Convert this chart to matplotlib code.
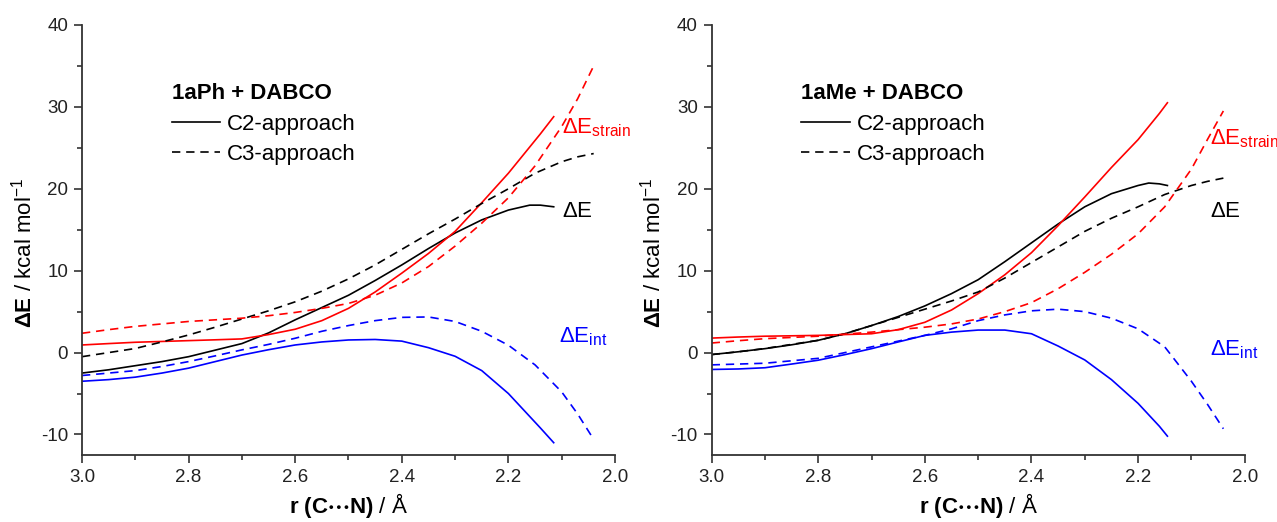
import numpy as np
import matplotlib
matplotlib.use("Agg")
import matplotlib.pyplot as plt
from matplotlib.lines import Line2D
from matplotlib.ticker import MultipleLocator

plt.rcParams['font.family'] = ['Liberation Sans', 'DejaVu Sans']
plt.rcParams['mathtext.fontset'] = 'custom'
plt.rcParams['mathtext.rm'] = 'Liberation Sans'
plt.rcParams['mathtext.bf'] = 'Liberation Sans:bold'
plt.rcParams['mathtext.it'] = 'Liberation Sans:italic'

# ---- 1aPh + DABCO (left) ----
ph_r_c2 = [3.00, 2.95, 2.90, 2.85, 2.80, 2.75, 2.70, 2.65, 2.60, 2.55, 2.50, 2.45,
           2.40, 2.35, 2.30, 2.25, 2.20, 2.16, 2.14, 2.115]
ph_dE_c2 = [-2.5, -2.1, -1.6, -1.1, -0.5, 0.3, 1.1, 2.4, 4.0, 5.5, 7.0, 8.8,
            10.7, 12.7, 14.6, 16.2, 17.4, 18.0, 18.0, 17.8]
ph_strain_c2 = [0.93, 1.1, 1.26, 1.36, 1.46, 1.56, 1.67, 2.2, 2.85, 3.9, 5.4, 7.4,
                9.7, 12.1, 14.8, 18.3, 21.9, 25.1, 26.7, 28.8]
ph_int_c2 = [-3.5, -3.3, -3.0, -2.5, -1.9, -1.1, -0.3, 0.35, 0.93, 1.3, 1.54, 1.6,
             1.4, 0.6, -0.45, -2.2, -5.0, -7.8, -9.2, -11.0]

ph_r_c3 = [3.00, 2.95, 2.90, 2.85, 2.80, 2.75, 2.70, 2.65, 2.60, 2.55, 2.50, 2.45,
           2.40, 2.35, 2.30, 2.25, 2.20, 2.15, 2.10, 2.07, 2.04]
ph_dE_c3 = [-0.5, 0.0, 0.5, 1.3, 2.15, 3.1, 4.1, 5.1, 6.2, 7.5, 9.0, 10.7,
            12.6, 14.5, 16.3, 18.2, 20.0, 21.9, 23.3, 23.9, 24.3]
ph_strain_c3 = [2.36, 2.8, 3.2, 3.5, 3.8, 4.0, 4.2, 4.5, 4.9, 5.4, 6.0, 7.0,
                8.5, 10.5, 13.0, 15.8, 18.9, 22.8, 27.6, 31.0, 35.0]
ph_int_c3 = [-2.8, -2.5, -2.2, -1.7, -1.1, -0.4, 0.33, 1.0, 1.75, 2.6, 3.3, 3.9,
             4.3, 4.35, 3.8, 2.6, 0.9, -1.5, -4.8, -7.5, -10.6]

# ---- 1aMe + DABCO (right) ----
me_r_c2 = [3.00, 2.95, 2.90, 2.85, 2.80, 2.75, 2.70, 2.65, 2.60, 2.55, 2.50, 2.45,
           2.40, 2.35, 2.30, 2.25, 2.20, 2.18, 2.16, 2.145]
me_dE_c2 = [-0.24, 0.1, 0.48, 0.95, 1.5, 2.3, 3.3, 4.4, 5.7, 7.2, 8.9, 11.1,
            13.4, 15.7, 17.8, 19.4, 20.4, 20.7, 20.6, 20.4]
me_strain_c2 = [1.77, 1.9, 2.0, 2.05, 2.1, 2.2, 2.3, 2.8, 3.7, 5.2, 7.2, 9.5,
                12.2, 15.5, 19.0, 22.6, 26.0, 27.6, 29.2, 30.5]
me_int_c2 = [-2.06, -2.0, -1.85, -1.4, -0.93, -0.25, 0.48, 1.3, 2.1, 2.5, 2.75, 2.75,
             2.3, 0.8, -0.9, -3.3, -6.2, -7.6, -9.0, -10.2]

me_r_c3 = [3.00, 2.95, 2.90, 2.85, 2.80, 2.75, 2.70, 2.65, 2.60, 2.55, 2.50, 2.45,
           2.40, 2.35, 2.30, 2.25, 2.20, 2.15, 2.10, 2.07, 2.04]
me_dE_c3 = [-0.24, 0.1, 0.5, 1.0, 1.5, 2.3, 3.3, 4.3, 5.3, 6.3, 7.4, 9.1,
            11.0, 12.9, 14.8, 16.4, 17.8, 19.3, 20.4, 20.9, 21.3]
me_strain_c3 = [1.17, 1.45, 1.7, 1.85, 2.0, 2.25, 2.5, 2.8, 3.1, 3.5, 4.1, 5.0,
                6.1, 7.8, 9.8, 12.0, 14.5, 17.8, 22.4, 26.0, 29.5]
me_int_c3 = [-1.5, -1.4, -1.3, -1.0, -0.7, 0.0, 0.7, 1.4, 2.1, 2.9, 3.9, 4.6,
             5.1, 5.3, 5.0, 4.2, 2.9, 0.7, -3.5, -6.3, -9.3]

panels = [
    ("1aPh + DABCO", ph_r_c2, ph_dE_c2, ph_strain_c2, ph_int_c2,
     ph_r_c3, ph_dE_c3, ph_strain_c3, ph_int_c3,
     [(2.10, 27.4), (2.10, 17.2), (2.105, 2.0)]),
    ("1aMe + DABCO", me_r_c2, me_dE_c2, me_strain_c2, me_int_c2,
     me_r_c3, me_dE_c3, me_strain_c3, me_int_c3,
     [(2.065, 26.1), (2.065, 17.2), (2.066, 0.3)]),
]

fig = plt.figure(figsize=(12.77, 5.22), dpi=100)
axes = [fig.add_axes([0.0642, 0.1284, 0.4174, 0.8238]),
        fig.add_axes([0.5573, 0.1284, 0.4174, 0.8238])]

lw = 1.2
dash = (5, 3.5)
grey = '#333333'

for ax, p in zip(axes, panels):
    title, r2, e2, s2, i2, r3, e3, s3, i3, lab = p
    ax.plot(r2, e2, color='black', lw=lw)
    ax.plot(r2, s2, color='#ff0000', lw=lw)
    ax.plot(r2, i2, color='#0000ff', lw=lw)
    ax.plot(r3, e3, color='black', lw=lw, ls=(0, dash))
    ax.plot(r3, s3, color='#ff0000', lw=lw, ls=(0, dash))
    ax.plot(r3, i3, color='#0000ff', lw=lw, ls=(0, dash))

    ax.set_xlim(3.0, 2.0)
    ax.set_ylim(-12.5, 40)
    ax.xaxis.set_major_locator(MultipleLocator(0.2))
    ax.xaxis.set_minor_locator(MultipleLocator(0.1))
    ax.yaxis.set_major_locator(MultipleLocator(10))
    ax.yaxis.set_minor_locator(MultipleLocator(5))
    ax.xaxis.set_major_formatter(plt.FuncFormatter(lambda v, _: f"{v:.1f}"))
    ax.yaxis.set_major_formatter(plt.FuncFormatter(lambda v, _: f"{v:.0f}"))
    for s in ('top', 'right'):
        ax.spines[s].set_visible(False)
    for s in ('left', 'bottom'):
        ax.spines[s].set_linewidth(1.3)
        ax.spines[s].set_color(grey)
    ax.tick_params(which='major', direction='out', length=6, width=1.2, color=grey,
                   labelsize=13.5, labelcolor='#222222', pad=4)
    ax.tick_params(which='minor', direction='out', length=3.5, width=1.2, color=grey)

    ax.set_xlabel(r"$\mathbf{r\ (C{\cdots}N)}$ / Å", fontsize=16, labelpad=4)
    ax.set_ylabel(r"$\mathbf{\Delta E}$ / kcal mol$^{-1}$", fontsize=16)
    ax.yaxis.set_label_coords(-0.086, 0.47)

    handles = [Line2D([], [], color='black', lw=lw),
               Line2D([], [], color='black', lw=lw, ls=(0, dash))]
    ax.legend(handles, ["C2-approach", "C3-approach"], loc='upper left',
              bbox_to_anchor=(0.168, 0.864), frameon=False, fontsize=16,
              title=title, title_fontproperties={'weight': 'bold', 'size': 16},
              alignment='left', handlelength=2.2, handletextpad=0.3,
              labelspacing=0.42, borderpad=0, borderaxespad=0)

    (xs, ys), (xe, ye), (xi, yi) = lab
    ax.text(xs, ys, r"$\mathrm{\Delta E_{strain}}$", color='#ff0000', fontsize=16,
            ha='left', va='center')
    ax.text(xe, ye, r"$\mathrm{\Delta E}$", color='black', fontsize=16,
            ha='left', va='center')
    ax.text(xi, yi, r"$\mathrm{\Delta E_{int}}$", color='#0000ff', fontsize=16,
            ha='left', va='center')

fig.savefig("out.png", dpi=100)
